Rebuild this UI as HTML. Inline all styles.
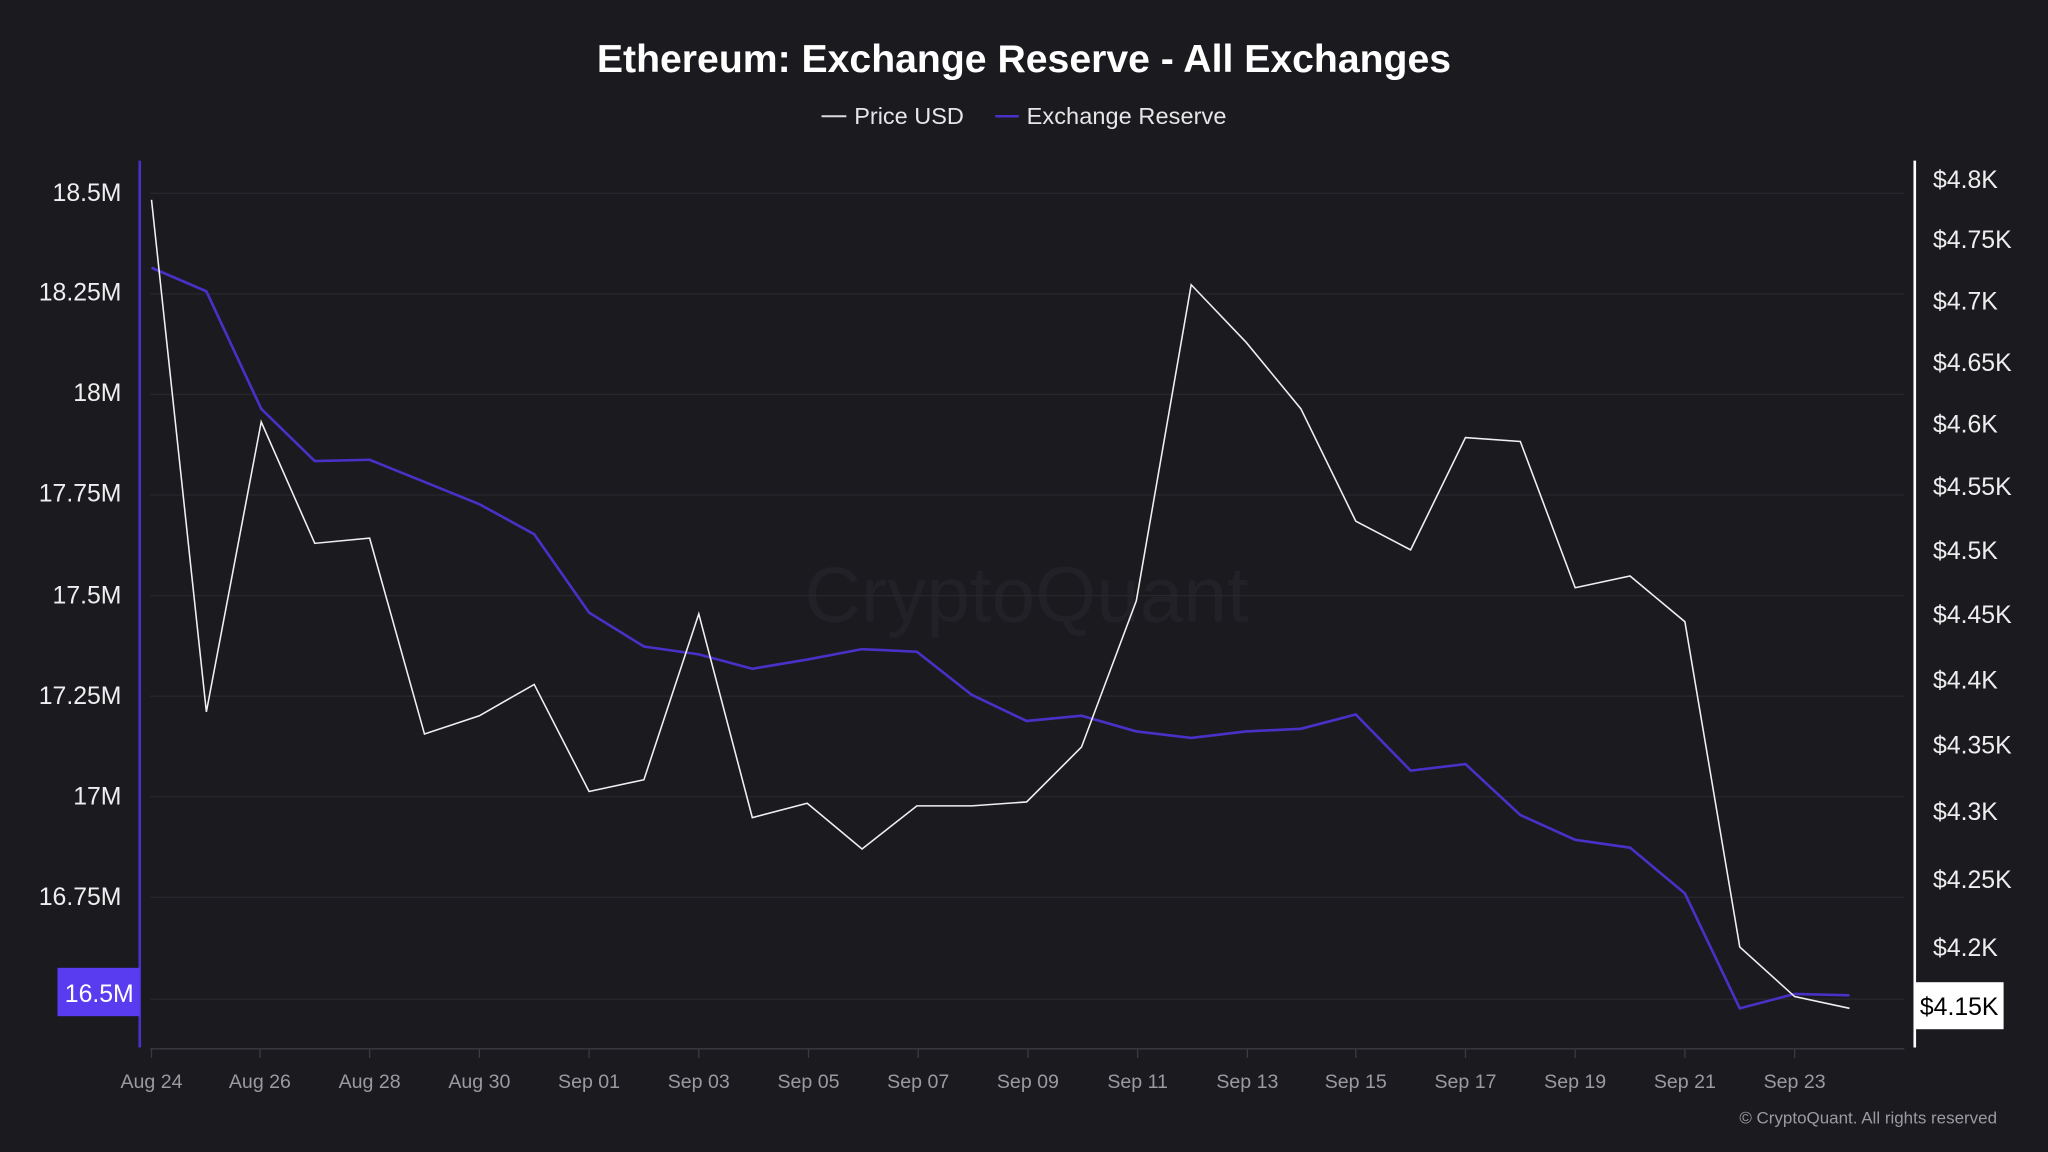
<!DOCTYPE html>
<html><head><meta charset="utf-8"><style>
html,body{margin:0;padding:0;background:#1b1a1f;}
svg{display:block;font-family:"Liberation Sans",sans-serif;}
</style></head><body>
<svg width="2048" height="1152" viewBox="0 0 1568 882" xmlns="http://www.w3.org/2000/svg">
<rect width="1568" height="882" fill="#1b1a1f"/>
<text x="784" y="55" text-anchor="middle" fill="#fff" font-size="30" font-weight="bold">Ethereum: Exchange Reserve - All Exchanges</text>
<line x1="629" y1="89" x2="648" y2="89" stroke="#ddd" stroke-width="1.5"/>
<text x="654" y="95" fill="#e6e6e6" font-size="18" textLength="84">Price USD</text>
<line x1="762" y1="89" x2="780" y2="89" stroke="#4b30c8" stroke-width="2"/>
<text x="786" y="95" fill="#e6e6e6" font-size="18" textLength="153">Exchange Reserve</text>
<text x="786" y="476" text-anchor="middle" fill="#222127" font-size="60">CryptoQuant</text>
<g stroke="#27272d" stroke-width="1">
<line x1="115" y1="148" x2="1458" y2="148"/><line x1="115" y1="225" x2="1458" y2="225"/>
<line x1="115" y1="302" x2="1458" y2="302"/><line x1="115" y1="379" x2="1458" y2="379"/>
<line x1="115" y1="456" x2="1458" y2="456"/><line x1="115" y1="533" x2="1458" y2="533"/>
<line x1="115" y1="610" x2="1458" y2="610"/><line x1="115" y1="687" x2="1458" y2="687"/>
<line x1="115" y1="765" x2="1458" y2="765"/>
</g>
<g fill="#eee" font-size="19" text-anchor="end">
<text x="93" y="154">18.5M</text><text x="93" y="230">18.25M</text><text x="93" y="307">18M</text>
<text x="93" y="384">17.75M</text><text x="93" y="462">17.5M</text><text x="93" y="539">17.25M</text>
<text x="93" y="616">17M</text><text x="93" y="693">16.75M</text>
</g>
<line x1="107" y1="123" x2="107" y2="802" stroke="#4b30c8" stroke-width="2"/>
<rect x="44" y="741" width="63" height="37" fill="#5a3cf0"/>
<text x="76" y="767" text-anchor="middle" fill="#fff" font-size="19">16.5M</text>
<g fill="#eee" font-size="19">
<text x="1480" y="144">$4.8K</text><text x="1480" y="190">$4.75K</text><text x="1480" y="237">$4.7K</text>
<text x="1480" y="284">$4.65K</text><text x="1480" y="331">$4.6K</text><text x="1480" y="379">$4.55K</text>
<text x="1480" y="428">$4.5K</text><text x="1480" y="477">$4.45K</text><text x="1480" y="527">$4.4K</text>
<text x="1480" y="577">$4.35K</text><text x="1480" y="628">$4.3K</text><text x="1480" y="680">$4.25K</text>
<text x="1480" y="732">$4.2K</text>
</g>
<line x1="1466" y1="123" x2="1466" y2="802" stroke="#fff" stroke-width="2"/>
<rect x="1466" y="752" width="68" height="36" fill="#fff"/>
<text x="1500" y="777" text-anchor="middle" fill="#000" font-size="19">$4.15K</text>
<line x1="115" y1="803" x2="1458" y2="803" stroke="#3a3a40" stroke-width="1"/>
<g stroke="#3a3a40"><line x1="116" y1="803" x2="116" y2="810"/><line x1="199" y1="803" x2="199" y2="810"/><line x1="283" y1="803" x2="283" y2="810"/><line x1="367" y1="803" x2="367" y2="810"/><line x1="451" y1="803" x2="451" y2="810"/><line x1="535" y1="803" x2="535" y2="810"/><line x1="619" y1="803" x2="619" y2="810"/><line x1="703" y1="803" x2="703" y2="810"/><line x1="787" y1="803" x2="787" y2="810"/><line x1="871" y1="803" x2="871" y2="810"/><line x1="955" y1="803" x2="955" y2="810"/><line x1="1038" y1="803" x2="1038" y2="810"/><line x1="1122" y1="803" x2="1122" y2="810"/><line x1="1206" y1="803" x2="1206" y2="810"/><line x1="1290" y1="803" x2="1290" y2="810"/><line x1="1374" y1="803" x2="1374" y2="810"/></g>
<g fill="#9a9aa0" font-size="15" text-anchor="middle">
<text x="116" y="833">Aug 24</text><text x="199" y="833">Aug 26</text><text x="283" y="833">Aug 28</text><text x="367" y="833">Aug 30</text><text x="451" y="833">Sep 01</text><text x="535" y="833">Sep 03</text><text x="619" y="833">Sep 05</text><text x="703" y="833">Sep 07</text><text x="787" y="833">Sep 09</text><text x="871" y="833">Sep 11</text><text x="955" y="833">Sep 13</text><text x="1038" y="833">Sep 15</text><text x="1122" y="833">Sep 17</text><text x="1206" y="833">Sep 19</text><text x="1290" y="833">Sep 21</text><text x="1374" y="833">Sep 23</text>
</g>
<text x="1529" y="860" text-anchor="end" fill="#9a9aa0" font-size="13">© CryptoQuant. All rights reserved</text>
<polyline fill="none" stroke="#4b30c8" stroke-width="2" points="116,205 158,223 200,313 241,353 283,352 325,369 367,386 409,409 451,469 493,495 535,501 576,512 618,505 660,497 702,499 744,532 786,552 828,548 870,560 912,565 954,560 996,558 1038,547 1080,590 1122,585 1164,624 1206,643 1248,649 1290,684 1332,772 1374,761 1416,762"/>
<polyline fill="none" stroke="#f0f0f0" stroke-width="1.2" points="116,153 158,545 200,323 241,416 283,412 325,562 367,548 409,524 451,606 493,597 535,470 576,626 618,615 660,650 702,617 744,617 786,614 828,572 870,460 912,218 954,262 996,313 1038,399 1080,421 1122,335 1164,338 1206,450 1248,441 1290,476 1332,725 1374,763 1416,772"/>
</svg>
</body></html>
